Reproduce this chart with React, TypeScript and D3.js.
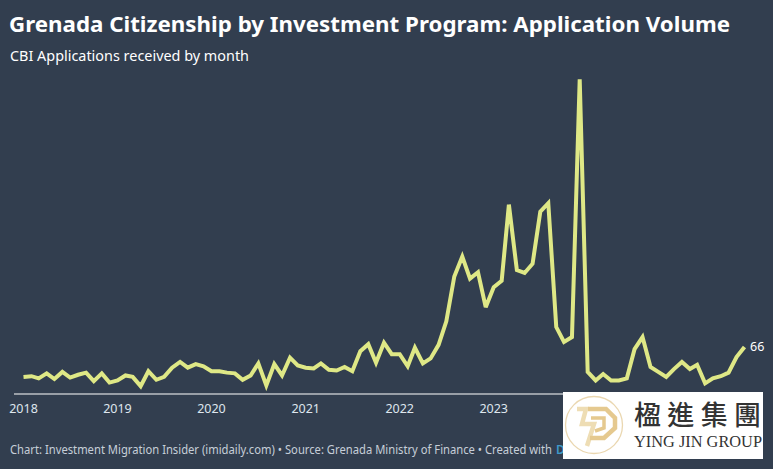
import React from "react";
import * as d3 from "d3";

const TITLE = "Grenada Citizenship by Investment Program: Application Volume";
const SUBTITLE = "CBI Applications received by month";
const FOOTER = "Chart: Investment Migration Insider (imidaily.com) • Source: Grenada Ministry of Finance • Created with";
const FOOTER_LINK_VISIBLE = "D";
const START_YEAR = 2018;
const tickYears = [2018, 2019, 2020, 2021, 2022, 2023];
const y2018 = [24, 25, 22, 29, 21, 31, 23, 27, 30, 18, 29, 16];
const y2019 = [19, 26, 24, 11, 32, 20, 24, 37, 45, 37, 42, 39];
const y2020 = [32, 32, 30, 29, 20, 26, 43, 12, 42, 26, 51, 40];
const y2021 = [37, 36, 43, 34, 33, 38, 32, 60, 70, 44, 72, 56];
const y2022 = [56, 39, 65, 43, 50, 69, 102, 165, 193, 162, 171, 122];
const y2023 = [150, 159, 266, 174, 170, 183, 256, 268, 94, 73, 80, 442];
const y2024 = [31, 19, 28, 19, 19, 22, 63, 80, 38, 31, 24, 35];
const y2025 = [45, 35, 41, 15, 22, 25, 30, 52, 66];
const values = [...y2018, ...y2019, ...y2020, ...y2021, ...y2022, ...y2023, ...y2024, ...y2025];
const points = values.map((v, i) => ({ date: new Date(START_YEAR, i, 1), v }));

const W = 773, H = 469;
const SANS = "'Noto Sans','Open Sans',sans-serif";

export default function App() {
  const x = d3.scaleTime().domain([new Date(2018, 0, 1), new Date(2025, 8, 1)]).range([23.5, 744.5]);
  const y = d3.scaleLinear().domain([0, 442]).range([394, 79.3]);
  const line = d3.line<{ date: Date; v: number }>().x(d => x(d.date)).y(d => y(d.v));
  const last = points[points.length - 1];
  return (
    <svg width={W} height={H} viewBox={`0 0 ${W} ${H}`} style={{ position: "absolute", left: 0, top: 0, display: "block", background: "#323e4f" }}>
      <text x={9} y={32} fontFamily={SANS} fontWeight={700} fontSize={21.6} fill="#fff" textLength={721} lengthAdjust="spacingAndGlyphs">{TITLE}</text>
      <text x={10} y={61} fontFamily={SANS} fontSize={14} fill="#fff" textLength={239} lengthAdjust="spacingAndGlyphs">{SUBTITLE}</text>
      <line x1={14} x2={563} y1={394} y2={394} stroke="#fff" strokeWidth={1.2} />
      {tickYears.map(t => (
        <text key={t} x={x(new Date(t, 0, 1))} y={412.5} textAnchor="middle" fontFamily={SANS} fontSize={12.5} fill="#dfe6ee">{t}</text>
      ))}
      <path d={line(points) ?? ""} fill="none" stroke="#dfe886" strokeWidth={4} strokeLinejoin="miter" strokeMiterlimit={3} />
      <text x={x(last.date) + 5.5} y={y(last.v) + 4} fontFamily={SANS} fontSize={12.5} fill="#fff">{last.v}</text>
      <text x={10} y={454} fontFamily={SANS} fontSize={12} fill="#c6ced8" textLength={542} lengthAdjust="spacingAndGlyphs">{FOOTER}</text>
      <text x={556} y={454} fontFamily={SANS} fontSize={12} fontWeight={600} fill="#3f9ac9">{FOOTER_LINK_VISIBLE}</text>
      {/* logo */}
      <rect x={563} y={392} width={200} height={67} fill="#fff" />
      <circle cx={594} cy={425} r={28.5} fill="none" stroke="#ead7b0" strokeWidth={1.3} />
      <path d="M577 409 L586 409 L582 424 L594 424 L587 446" fill="none" stroke="#eeddb4" strokeWidth={4.5} />
      <path d="M588 409 L606 409 L615 418 L615 428 L604 438 L590 438" fill="none" stroke="#e5c98f" strokeWidth={4.5} />
      <path d="M591 418 L604 418 L604 428 L595 431" fill="none" stroke="#e5c98f" strokeWidth={3.5} />
      <text x={634} y={425} fontFamily="'Noto Sans CJK TC','Noto Sans CJK SC',serif" fontWeight={500} fontSize={27} fill="#333" textLength={127} lengthAdjust="spacing">楹進集團</text>
      <text x={634} y={447} fontFamily="'Liberation Serif',serif" fontSize={16.5} fill="#333" textLength={128} lengthAdjust="spacingAndGlyphs">YING JIN GROUP</text>
    </svg>
  );
}
